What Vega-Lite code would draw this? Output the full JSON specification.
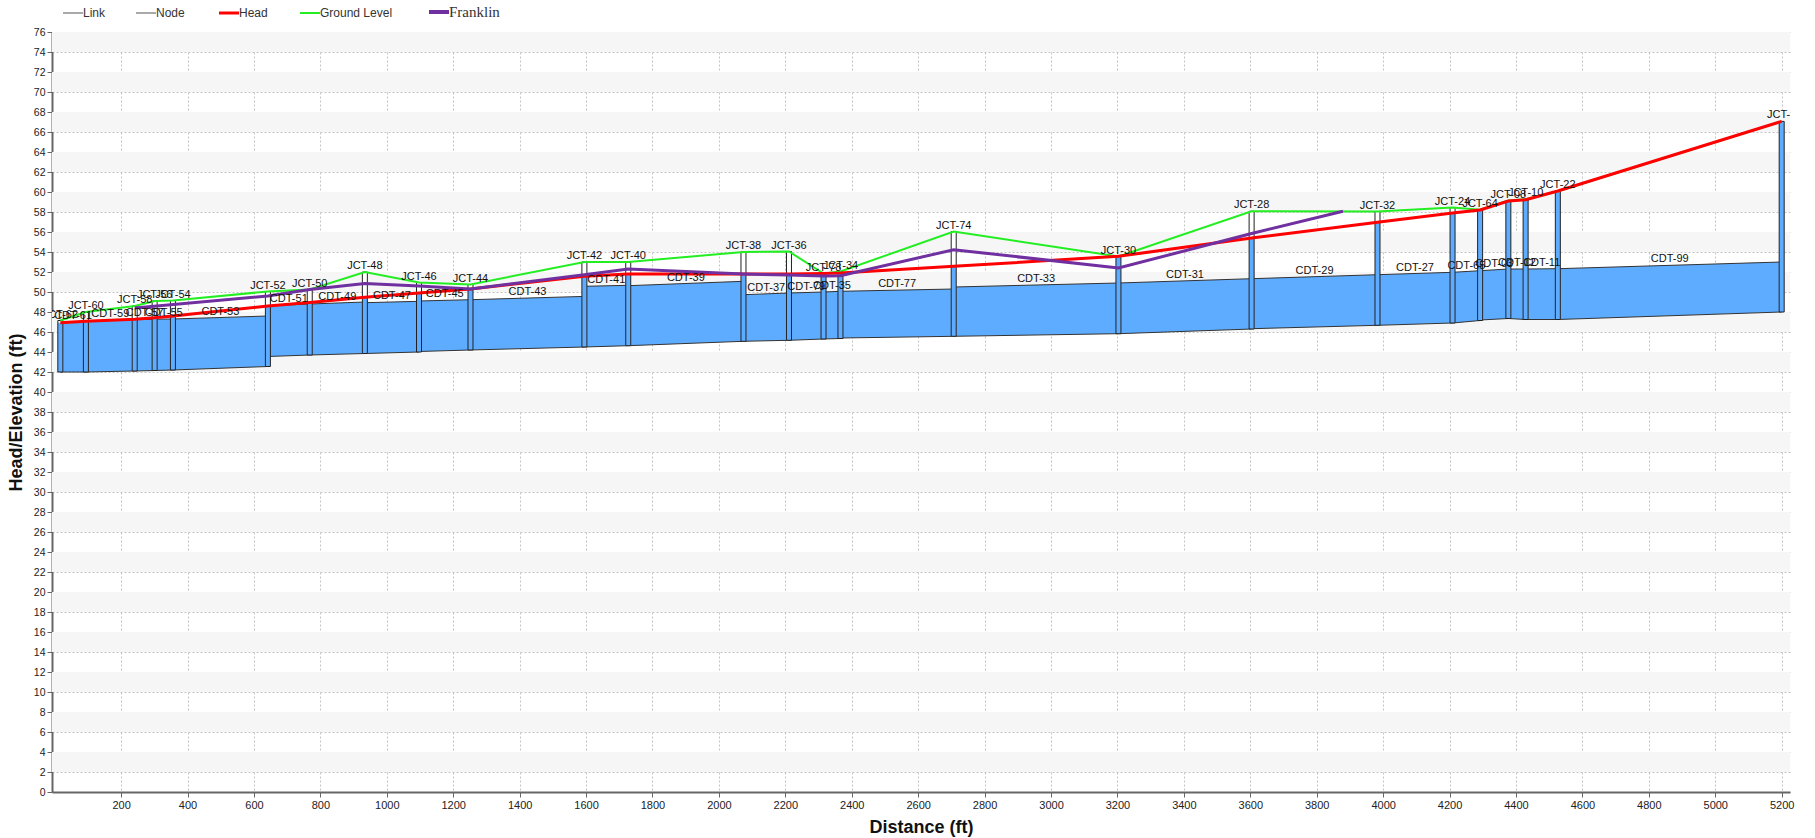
{
  "$schema": "https://vega.github.io/schema/vega-lite/v6.json",
  "autosize": {"type": "none"},
  "padding": {"left": 52, "top": 32, "right": 25, "bottom": 46},
  "width": 1738,
  "height": 760,
  "background": "white",
  "config": {
    "view": {"stroke": null},
    "axis": {
      "labelFont": "Liberation Sans", "labelFontSize": 11, "labelColor": "#222", "labelOverlap": false,
      "titleFont": "Liberation Sans", "titleFontSize": 18, "titleFontWeight": "bold", "titleColor": "#111",
      "domainColor": "#666", "domainWidth": 2, "tickColor": "#666", "tickSize": 5, "labelPadding": 2,
      "gridColor": "#c4c4c4", "gridDash": [2, 2], "gridWidth": 1
    },
    "axisY": {"labelOverlap": false, "labelFontSize": 10.5},
    "text": {"font": "Liberation Sans"}
  },
  "datasets": {
    "bands": [
      {"b0": 2, "b1": 4}, {"b0": 6, "b1": 8}, {"b0": 10, "b1": 12}, {"b0": 14, "b1": 16}, {"b0": 18, "b1": 20},
      {"b0": 22, "b1": 24}, {"b0": 26, "b1": 28}, {"b0": 30, "b1": 32}, {"b0": 34, "b1": 36}, {"b0": 38, "b1": 40},
      {"b0": 42, "b1": 44}, {"b0": 46, "b1": 48}, {"b0": 50, "b1": 52}, {"b0": 54, "b1": 56}, {"b0": 58, "b1": 60},
      {"b0": 62, "b1": 64}, {"b0": 66, "b1": 68}, {"b0": 70, "b1": 72}, {"b0": 74, "b1": 76}
    ],
    "conduits": [
      {"id": "CDT-61", "d": 17, "inv": 42.0, "crown": 46.95}, {"id": "CDT-61", "d": 94, "inv": 42.0, "crown": 47.05},
      {"id": "CDT-59", "d": 94, "inv": 42.0, "crown": 47.1}, {"id": "CDT-59", "d": 241, "inv": 42.1, "crown": 47.23},
      {"id": "CDT-57", "d": 241, "inv": 42.1, "crown": 47.25}, {"id": "CDT-57", "d": 301, "inv": 42.15, "crown": 47.27},
      {"id": "CDT-55", "d": 301, "inv": 42.15, "crown": 47.28}, {"id": "CDT-55", "d": 356, "inv": 42.2, "crown": 47.3},
      {"id": "CDT-53", "d": 356, "inv": 42.2, "crown": 47.3}, {"id": "CDT-53", "d": 642, "inv": 42.55, "crown": 47.6},
      {"id": "CDT-51", "d": 642, "inv": 43.55, "crown": 48.63}, {"id": "CDT-51", "d": 768, "inv": 43.7, "crown": 48.8},
      {"id": "CDT-49", "d": 768, "inv": 43.7, "crown": 48.8}, {"id": "CDT-49", "d": 934, "inv": 43.85, "crown": 49.0},
      {"id": "CDT-47", "d": 934, "inv": 43.85, "crown": 48.93}, {"id": "CDT-47", "d": 1097, "inv": 44.0, "crown": 49.07},
      {"id": "CDT-45", "d": 1097, "inv": 44.05, "crown": 49.1}, {"id": "CDT-45", "d": 1252, "inv": 44.2, "crown": 49.23},
      {"id": "CDT-43", "d": 1252, "inv": 44.2, "crown": 49.23}, {"id": "CDT-43", "d": 1595, "inv": 44.5, "crown": 49.56},
      {"id": "CDT-41", "d": 1595, "inv": 44.5, "crown": 50.57}, {"id": "CDT-41", "d": 1727, "inv": 44.63, "crown": 50.67},
      {"id": "CDT-39", "d": 1727, "inv": 44.63, "crown": 50.63}, {"id": "CDT-39", "d": 2074, "inv": 45.07, "crown": 51.07},
      {"id": "CDT-37", "d": 2074, "inv": 45.07, "crown": 49.73}, {"id": "CDT-37", "d": 2211, "inv": 45.17, "crown": 49.9},
      {"id": "CDT-79", "d": 2211, "inv": 45.17, "crown": 49.9}, {"id": "CDT-79", "d": 2315, "inv": 45.3, "crown": 50.0},
      {"id": "CDT-35", "d": 2315, "inv": 45.3, "crown": 50.0}, {"id": "CDT-35", "d": 2366, "inv": 45.35, "crown": 50.07},
      {"id": "CDT-77", "d": 2366, "inv": 45.4, "crown": 50.07}, {"id": "CDT-77", "d": 2707, "inv": 45.57, "crown": 50.3},
      {"id": "CDT-33", "d": 2707, "inv": 45.57, "crown": 50.5}, {"id": "CDT-33", "d": 3203, "inv": 45.83, "crown": 50.9},
      {"id": "CDT-31", "d": 3203, "inv": 45.83, "crown": 50.9}, {"id": "CDT-31", "d": 3604, "inv": 46.3, "crown": 51.33},
      {"id": "CDT-29", "d": 3604, "inv": 46.33, "crown": 51.33}, {"id": "CDT-29", "d": 3983, "inv": 46.67, "crown": 51.73},
      {"id": "CDT-27", "d": 3983, "inv": 46.67, "crown": 51.73}, {"id": "CDT-27", "d": 4209, "inv": 46.9, "crown": 51.97},
      {"id": "CDT-65", "d": 4209, "inv": 46.9, "crown": 51.97}, {"id": "CDT-65", "d": 4292, "inv": 47.15, "crown": 52.13},
      {"id": "CDT-03", "d": 4292, "inv": 47.2, "crown": 52.13}, {"id": "CDT-03", "d": 4377, "inv": 47.35, "crown": 52.3},
      {"id": "CDT-12", "d": 4377, "inv": 47.35, "crown": 52.3}, {"id": "CDT-12", "d": 4429, "inv": 47.25, "crown": 52.3},
      {"id": "CDT-11", "d": 4429, "inv": 47.25, "crown": 52.3}, {"id": "CDT-11", "d": 4526, "inv": 47.25, "crown": 52.33},
      {"id": "CDT-99", "d": 4526, "inv": 47.25, "crown": 52.33}, {"id": "CDT-99", "d": 5200, "inv": 48.0, "crown": 53.0}
    ],
    "nodes": [
      {"id": "JCT-62", "d": 17, "inv": 42.0, "rim": 47.15, "water": 46.93},
      {"id": "JCT-60", "d": 94, "inv": 42.0, "rim": 48.0, "water": 47.07},
      {"id": "JCT-58", "d": 241, "inv": 42.1, "rim": 48.6, "water": 47.27},
      {"id": "JCT-56", "d": 301, "inv": 42.15, "rim": 49.1, "water": 47.43},
      {"id": "JCT-54", "d": 356, "inv": 42.2, "rim": 49.15, "water": 47.6},
      {"id": "JCT-52", "d": 642, "inv": 42.55, "rim": 50.05, "water": 48.6},
      {"id": "JCT-50", "d": 768, "inv": 43.7, "rim": 50.25, "water": 48.95},
      {"id": "JCT-48", "d": 934, "inv": 43.85, "rim": 52.0, "water": 49.47},
      {"id": "JCT-46", "d": 1097, "inv": 44.0, "rim": 50.95, "water": 49.9},
      {"id": "JCT-44", "d": 1252, "inv": 44.2, "rim": 50.75, "water": 50.3},
      {"id": "JCT-42", "d": 1595, "inv": 44.5, "rim": 53.0, "water": 51.57},
      {"id": "JCT-40", "d": 1727, "inv": 44.63, "rim": 53.0, "water": 51.8},
      {"id": "JCT-38", "d": 2074, "inv": 45.07, "rim": 54.0, "water": 51.8},
      {"id": "JCT-36", "d": 2211, "inv": 45.17, "rim": 54.05, "water": 51.8},
      {"id": "JCT-78", "d": 2315, "inv": 45.3, "rim": 51.85, "water": 51.85},
      {"id": "JCT-34", "d": 2366, "inv": 45.35, "rim": 52.05, "water": 51.9},
      {"id": "JCT-74", "d": 2707, "inv": 45.57, "rim": 56.05, "water": 52.57},
      {"id": "JCT-30", "d": 3203, "inv": 45.83, "rim": 53.55, "water": 53.55},
      {"id": "JCT-28", "d": 3604, "inv": 46.3, "rim": 58.07, "water": 55.4},
      {"id": "JCT-32", "d": 3983, "inv": 46.67, "rim": 58.05, "water": 56.97},
      {"id": "JCT-24", "d": 4209, "inv": 46.9, "rim": 58.45, "water": 57.9},
      {"id": "JCT-64", "d": 4292, "inv": 47.15, "rim": 58.23, "water": 58.2},
      {"id": "JCT-08", "d": 4377, "inv": 47.35, "rim": 59.15, "water": 59.1},
      {"id": "JCT-10", "d": 4429, "inv": 47.25, "rim": 59.28, "water": 59.23},
      {"id": "JCT-22", "d": 4526, "inv": 47.25, "rim": 60.07, "water": 60.07},
      {"id": "JCT-1", "d": 5200, "inv": 48.0, "rim": 67.06, "water": 67.06}
    ],
    "profile": [
      {"series": "Ground Level", "d": 17, "v": 47.15}, {"series": "Ground Level", "d": 94, "v": 48.0},
      {"series": "Ground Level", "d": 241, "v": 48.6}, {"series": "Ground Level", "d": 301, "v": 49.1},
      {"series": "Ground Level", "d": 356, "v": 49.15}, {"series": "Ground Level", "d": 642, "v": 50.05},
      {"series": "Ground Level", "d": 768, "v": 50.25}, {"series": "Ground Level", "d": 934, "v": 52.0},
      {"series": "Ground Level", "d": 1097, "v": 50.95}, {"series": "Ground Level", "d": 1252, "v": 50.75},
      {"series": "Ground Level", "d": 1595, "v": 53.0}, {"series": "Ground Level", "d": 1727, "v": 53.0},
      {"series": "Ground Level", "d": 2074, "v": 54.0}, {"series": "Ground Level", "d": 2211, "v": 54.05},
      {"series": "Ground Level", "d": 2315, "v": 51.85}, {"series": "Ground Level", "d": 2366, "v": 52.05},
      {"series": "Ground Level", "d": 2707, "v": 56.05}, {"series": "Ground Level", "d": 3203, "v": 53.55},
      {"series": "Ground Level", "d": 3604, "v": 58.07}, {"series": "Ground Level", "d": 3983, "v": 58.05},
      {"series": "Ground Level", "d": 4209, "v": 58.45}, {"series": "Ground Level", "d": 4292, "v": 58.23},
      {"series": "Ground Level", "d": 4377, "v": 59.15}, {"series": "Ground Level", "d": 4429, "v": 59.28},
      {"series": "Ground Level", "d": 4526, "v": 60.07}, {"series": "Ground Level", "d": 5200, "v": 67.06},
      {"series": "Head", "d": 17, "v": 46.93}, {"series": "Head", "d": 94, "v": 47.07},
      {"series": "Head", "d": 241, "v": 47.27}, {"series": "Head", "d": 301, "v": 47.43},
      {"series": "Head", "d": 356, "v": 47.6}, {"series": "Head", "d": 642, "v": 48.6},
      {"series": "Head", "d": 768, "v": 48.95}, {"series": "Head", "d": 934, "v": 49.47},
      {"series": "Head", "d": 1097, "v": 49.9}, {"series": "Head", "d": 1252, "v": 50.3},
      {"series": "Head", "d": 1595, "v": 51.57}, {"series": "Head", "d": 1727, "v": 51.8},
      {"series": "Head", "d": 2074, "v": 51.8}, {"series": "Head", "d": 2211, "v": 51.8},
      {"series": "Head", "d": 2315, "v": 51.85}, {"series": "Head", "d": 2366, "v": 51.9},
      {"series": "Head", "d": 2707, "v": 52.57}, {"series": "Head", "d": 3203, "v": 53.57},
      {"series": "Head", "d": 3604, "v": 55.4}, {"series": "Head", "d": 3983, "v": 56.97},
      {"series": "Head", "d": 4209, "v": 57.9}, {"series": "Head", "d": 4292, "v": 58.2},
      {"series": "Head", "d": 4377, "v": 59.1}, {"series": "Head", "d": 4429, "v": 59.23},
      {"series": "Head", "d": 4526, "v": 60.1}, {"series": "Head", "d": 5200, "v": 67.06},
      {"series": "Franklin", "d": 241, "v": 48.4}, {"series": "Franklin", "d": 642, "v": 49.6},
      {"series": "Franklin", "d": 768, "v": 50.25}, {"series": "Franklin", "d": 934, "v": 50.85},
      {"series": "Franklin", "d": 1097, "v": 50.6}, {"series": "Franklin", "d": 1252, "v": 50.3},
      {"series": "Franklin", "d": 1595, "v": 51.73}, {"series": "Franklin", "d": 1727, "v": 52.3},
      {"series": "Franklin", "d": 2074, "v": 51.8}, {"series": "Franklin", "d": 2211, "v": 51.7},
      {"series": "Franklin", "d": 2315, "v": 51.6}, {"series": "Franklin", "d": 2366, "v": 51.63},
      {"series": "Franklin", "d": 2707, "v": 54.23}, {"series": "Franklin", "d": 3203, "v": 52.4},
      {"series": "Franklin", "d": 3604, "v": 55.85}, {"series": "Franklin", "d": 3879, "v": 58.07}
    ]
  },
  "layer": [
    {
      "data": {"name": "bands"},
      "mark": {"type": "rect", "fill": "#f6f6f6"},
      "encoding": {
        "y": {"field": "b0", "type": "quantitative", "scale": {"domain": [0, 76], "nice": false, "zero": false},
              "title": "Head/Elevation (ft)",
              "axis": {"values": [0,2,4,6,8,10,12,14,16,18,20,22,24,26,28,30,32,34,36,38,40,42,44,46,48,50,52,54,56,58,60,62,64,66,68,70,72,74,76], "tickCount": 80, "grid": true, "titlePadding": 8, "format": "d", "labelOverlap": false}},
        "y2": {"field": "b1"}
      }
    },
    {
      "data": {"name": "conduits"},
      "mark": {"type": "area", "fill": "#5eacff", "opacity": 1, "stroke": "#333", "strokeWidth": 1, "orient": "vertical"},
      "encoding": {
        "x": {"field": "d", "type": "quantitative", "scale": {"domain": [7, 5210], "nice": false, "zero": false},
              "title": "Distance (ft)",
              "axis": {"values": [200,400,600,800,1000,1200,1400,1600,1800,2000,2200,2400,2600,2800,3000,3200,3400,3600,3800,4000,4200,4400,4600,4800,5000,5200], "tickCount": 60, "grid": true, "titlePadding": 8, "format": "d", "labelOverlap": false}},
        "y": {"field": "crown", "type": "quantitative", "scale": {"domain": [0, 76], "nice": false, "zero": false}, "title": "Head/Elevation (ft)",
              "axis": {"values": [0,2,4,6,8,10,12,14,16,18,20,22,24,26,28,30,32,34,36,38,40,42,44,46,48,50,52,54,56,58,60,62,64,66,68,70,72,74,76], "tickCount": 80, "grid": true, "titlePadding": 8, "format": "d", "labelOverlap": false}},
        "y2": {"field": "inv"},
        "detail": {"field": "id", "type": "nominal"}
      }
    },
    {
      "data": {"name": "nodes"},
      "mark": {"type": "bar", "fill": "white", "width": 5, "opacity": 1},
      "encoding": {
        "x": {"field": "d", "type": "quantitative", "scale": {"domain": [7, 5210], "nice": false, "zero": false}, "title": "Distance (ft)"},
        "y": {"field": "rim", "type": "quantitative", "scale": {"domain": [0, 76], "nice": false, "zero": false}, "title": "Head/Elevation (ft)"},
        "y2": {"field": "inv"}
      }
    },
    {
      "data": {"name": "nodes"},
      "mark": {"type": "bar", "fill": "#5eacff", "width": 5, "opacity": 1},
      "encoding": {
        "x": {"field": "d", "type": "quantitative", "scale": {"domain": [7, 5210], "nice": false, "zero": false}, "title": "Distance (ft)"},
        "y": {"field": "water", "type": "quantitative", "scale": {"domain": [0, 76], "nice": false, "zero": false}, "title": "Head/Elevation (ft)"},
        "y2": {"field": "inv"}
      }
    },
    {
      "data": {"name": "nodes"},
      "mark": {"type": "bar", "filled": false, "fillOpacity": 0, "stroke": "#222", "strokeWidth": 1, "width": 5},
      "encoding": {
        "x": {"field": "d", "type": "quantitative", "scale": {"domain": [7, 5210], "nice": false, "zero": false}, "title": "Distance (ft)"},
        "y": {"field": "rim", "type": "quantitative", "scale": {"domain": [0, 76], "nice": false, "zero": false}, "title": "Head/Elevation (ft)"},
        "y2": {"field": "inv"}
      }
    },
    {
      "data": {"name": "profile"},
      "transform": [{"filter": "datum.series === 'Ground Level'"}],
      "mark": {"type": "line", "strokeWidth": 2, "clip": true},
      "encoding": {
        "x": {"field": "d", "type": "quantitative", "scale": {"domain": [7, 5210], "nice": false, "zero": false}, "title": "Distance (ft)"},
        "y": {"field": "v", "type": "quantitative", "scale": {"domain": [0, 76], "nice": false, "zero": false}, "title": "Head/Elevation (ft)"},
        "color": {"field": "series", "type": "nominal",
          "scale": {"domain": ["Link", "Node", "Head", "Ground Level", "Franklin"], "range": ["#555555", "#555555", "#ff0000", "#22ee22", "#7030a0"]},
          "legend": {"title": null, "orient": "none", "legendX": 15, "legendY": -26, "direction": "horizontal",
            "symbolType": "stroke", "symbolSize": 400, "symbolStrokeWidth": 2, "labelFont": "Liberation Sans", "labelFontSize": 12,
            "labelColor": "#333", "columnPadding": 28,
            "encode": {
              "symbols": {"update": {"strokeWidth": {"signal": "datum.value === 'Head' ? 3 : datum.value === 'Franklin' ? 4 : datum.value === 'Ground Level' ? 2 : 1"}}},
              "labels": {"update": {"font": {"signal": "datum.value === 'Franklin' ? 'Liberation Serif' : 'Liberation Sans'"}, "fontSize": {"signal": "datum.value === 'Franklin' ? 15 : 12"}}}
            }}},
        "order": {"field": "d", "type": "quantitative"}
      }
    },
    {
      "data": {"name": "profile"},
      "transform": [{"filter": "datum.series === 'Head'"}],
      "mark": {"type": "line", "strokeWidth": 3, "clip": true},
      "encoding": {
        "x": {"field": "d", "type": "quantitative", "scale": {"domain": [7, 5210], "nice": false, "zero": false}, "title": "Distance (ft)"},
        "y": {"field": "v", "type": "quantitative", "scale": {"domain": [0, 76], "nice": false, "zero": false}, "title": "Head/Elevation (ft)"},
        "color": {"field": "series", "type": "nominal",
          "scale": {"domain": ["Link", "Node", "Head", "Ground Level", "Franklin"], "range": ["#555555", "#555555", "#ff0000", "#22ee22", "#7030a0"]}},
        "order": {"field": "d", "type": "quantitative"}
      }
    },
    {
      "data": {"name": "profile"},
      "transform": [{"filter": "datum.series === 'Franklin'"}],
      "mark": {"type": "line", "strokeWidth": 3, "clip": true},
      "encoding": {
        "x": {"field": "d", "type": "quantitative", "scale": {"domain": [7, 5210], "nice": false, "zero": false}, "title": "Distance (ft)"},
        "y": {"field": "v", "type": "quantitative", "scale": {"domain": [0, 76], "nice": false, "zero": false}, "title": "Head/Elevation (ft)"},
        "color": {"field": "series", "type": "nominal",
          "scale": {"domain": ["Link", "Node", "Head", "Ground Level", "Franklin"], "range": ["#555555", "#555555", "#ff0000", "#22ee22", "#7030a0"]}},
        "order": {"field": "d", "type": "quantitative"}
      }
    },
    {
      "data": {"name": "nodes"},
      "mark": {"type": "text", "baseline": "bottom", "align": "center", "dy": -1, "fontSize": 11, "color": "#111", "clip": true},
      "encoding": {
        "x": {"field": "d", "type": "quantitative", "scale": {"domain": [7, 5210], "nice": false, "zero": false}, "title": "Distance (ft)"},
        "y": {"field": "rim", "type": "quantitative", "scale": {"domain": [0, 76], "nice": false, "zero": false}, "title": "Head/Elevation (ft)"},
        "text": {"field": "id", "type": "nominal"}
      }
    },
    {
      "data": {"name": "conduits"},
      "transform": [{"aggregate": [{"op": "mean", "field": "d", "as": "dm"}, {"op": "mean", "field": "crown", "as": "cm"}], "groupby": ["id"]}],
      "mark": {"type": "text", "baseline": "bottom", "align": "center", "dy": -1, "fontSize": 11, "color": "#111", "clip": true},
      "encoding": {
        "x": {"field": "dm", "type": "quantitative", "scale": {"domain": [7, 5210], "nice": false, "zero": false}, "title": "Distance (ft)"},
        "y": {"field": "cm", "type": "quantitative", "scale": {"domain": [0, 76], "nice": false, "zero": false}, "title": "Head/Elevation (ft)"},
        "text": {"field": "id", "type": "nominal"}
      }
    }
  ]
}
